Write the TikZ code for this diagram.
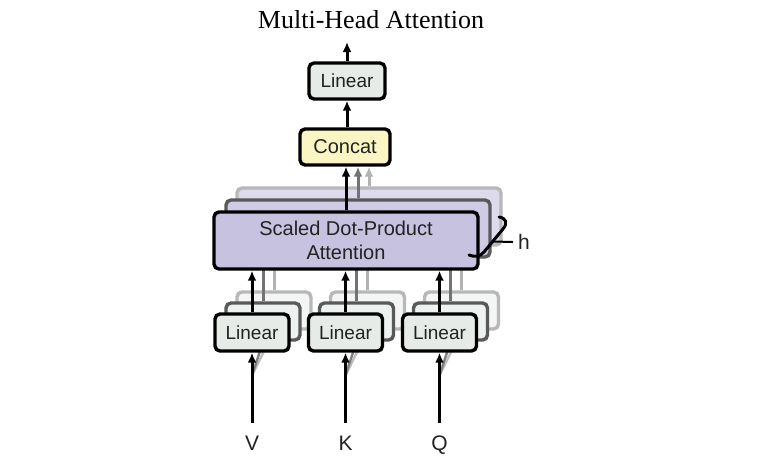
\documentclass[tikz,border=0pt]{standalone}
\usepackage{fontspec}
\setmainfont{Liberation Serif}
\newfontfamily\boxfont{Liberation Sans}
\usetikzlibrary{arrows.meta,calc}
\definecolor{linfill}{HTML}{E6EBE8}
\definecolor{catfill}{HTML}{FBF5C4}
\definecolor{sdpfill}{HTML}{C6C2DF}
\definecolor{txt}{HTML}{222222}
\tikzset{
  box/.style={draw=black, line width=3.4pt, rounded corners=5pt, inner sep=0pt,
    font=\boxfont\fontsize{19}{23}\selectfont, text=txt, align=center},
  linbox/.style={box, fill=linfill, minimum width=74pt, minimum height=37pt},
  linboxb/.style={linbox, draw=black!65, fill=linfill!70!white},
  linboxc/.style={linbox, draw=black!28, fill=linfill!45!white},
  sdpbox/.style={box, fill=sdpfill, minimum width=264pt, minimum height=57pt,
    font=\boxfont\fontsize{20}{23.5}\selectfont},
  sdpboxb/.style={sdpbox, draw=black!65, fill=sdpfill!85!white},
  sdpboxc/.style={sdpbox, draw=black!28, fill=sdpfill!60!white},
  arr/.style={line width=3pt, -{Latex[length=10pt,width=9pt]}},
  arrb/.style={arr, draw=black!55},
  arrc/.style={arr, draw=black!30},
  ghost/.style={line width=3pt, draw=black!55},
  ghostc/.style={line width=3pt, draw=black!30},
  inlabel/.style={font=\boxfont\fontsize{21}{24}\selectfont, text=txt, inner sep=0pt},
}
\begin{document}
\begin{tikzpicture}[x=1pt,y=-1pt]
\useasboundingbox (0,0) rectangle (762,464);

% title
\node[font=\fontsize{26}{30}\selectfont, inner sep=0pt, anchor=base] (title) at (371,28) {Multi-Head Attention};

% SDPA copies
\node[sdpboxc] (sdpc) at (369,216.5) {};
\node[sdpboxb] (sdpb) at (358,228.5) {};

% linear copies and their connectors
\foreach \n/\x in {1/252,2/345.5,3/439.5}{
  \node[linboxc] (lin\n c) at (\x+22,310.5) {};
  \node[linboxb] (lin\n b) at (\x+11,321.5) {};
}
\foreach \n/\x in {1/252,2/345.5,3/439.5}{
  \draw[ghostc] (lin\n c.north) -- (lin\n c.north |- sdpb.south);
  \draw[ghost] (lin\n b.north) -- (lin\n b.north |- sdpb.south);
}
% ghost input stubs
\foreach \n/\x in {1/252,2/345.5,3/439.5}{
  \coordinate (in\n) at (\x,423);
  \coordinate (lin\n s) at (\x,351);
  \draw[line width=2.4pt, draw=black!25] ($(in\n)!0.66!(lin\n s)$) -- (lin\n c.south);
  \draw[line width=2.4pt, draw=black!50] ($(in\n)!0.66!(lin\n s)$) -- (lin\n b.south);
}

% main linear boxes
\node[linbox] (lin1) at (252,332.5) {Linear};
\node[linbox] (lin2) at (345.5,332.5) {Linear};
\node[linbox] (lin3) at (439.5,332.5) {Linear};

% main SDPA
\node[sdpbox] (sdp) at (346,240.5) {Scaled Dot-Product\\Attention};

% concat and top linear
\node[box, fill=catfill, minimum width=90pt, minimum height=36pt,
  font=\boxfont\fontsize{20}{23}\selectfont] (concat) at (345,147) {Concat};
\node[linbox, minimum width=76pt, minimum height=36pt] (lintop) at (347,81) {Linear};
\coordinate (out) at (347,42);

% input labels
\node[inlabel, anchor=base] (V) at (252,450) {V};
\node[inlabel, anchor=base] (K) at (345.5,450) {K};
\node[inlabel, anchor=base] (Q) at (439.5,450) {Q};

% arrows
\foreach \n in {1,2,3}{
  \draw[arr] (in\n) -- (lin\n.south);
  \draw[arr] (lin\n.north) -- (lin\n.north |- sdp.south);
}
\draw[arrc] (sdpc.north) -- (sdpc.north |- concat.south);
\draw[arrb] (sdpb.north) -- (sdpb.north |- concat.south);
\draw[arr] (sdp.north) -- (sdp.north |- concat.south);
\draw[arr] (concat.north -| lintop.south) -- (lintop.south);
\draw[arr] (lintop.north) -- (out);

% h brace
\coordinate (bt) at (499,217);
\coordinate (bb) at (469,255);
\draw[line width=3pt, line cap=round] (bt) .. controls (506,218) and (508,223) .. (503,229)
  -- (484,252) .. controls (480,257) and (474,257) .. (bb);
\node[inlabel, anchor=west, inner xsep=5pt] (h) at (513,242) {h};
\draw[line width=2pt] (493.5,241.5) -- (h.west);
\end{tikzpicture}
\end{document}
